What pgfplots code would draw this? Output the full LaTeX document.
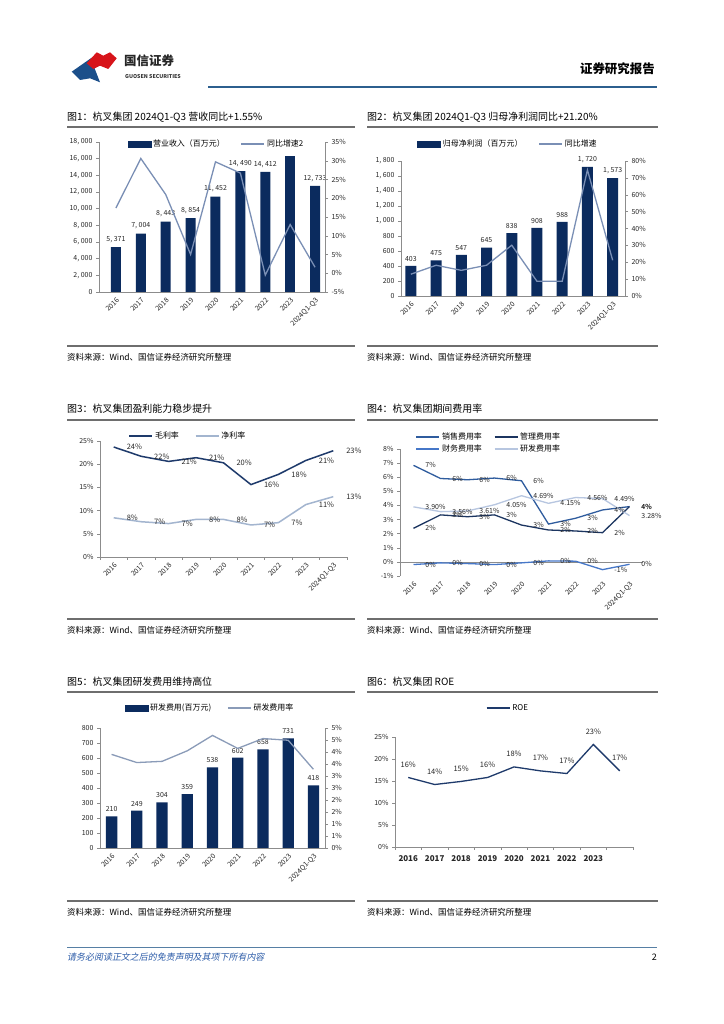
\documentclass[border=0pt]{standalone}
\usepackage{fontspec}
\setmainfont{Noto Sans CJK SC}
\newfontfamily\cjkit[FakeSlant=0.2]{Noto Sans CJK SC}
\usepackage{pgfplots}
\pgfplotsset{compat=1.18}

\definecolor{barnavy}{HTML}{0B2B5E}
\definecolor{steel}{HTML}{7A8FB5}
\definecolor{gross}{HTML}{1E3A6B}
\definecolor{net}{HTML}{A3B5CF}
\definecolor{sell}{HTML}{2F5C9E}
\definecolor{admin}{HTML}{1C3560}
\definecolor{fin}{HTML}{4677C8}
\definecolor{rd}{HTML}{B7C6E0}
\definecolor{rdline}{HTML}{8A9BB8}
\definecolor{axgray}{HTML}{8C8C8C}
\definecolor{rulegray}{HTML}{6E6E6E}
\definecolor{hdrblue}{HTML}{2C5F8E}
\definecolor{logored}{HTML}{D7141A}
\definecolor{logoblue}{HTML}{1B4F8A}
\definecolor{footblue}{HTML}{2B5BA8}

\pgfplotsset{
  base/.style={
    scale only axis, enlargelimits=false, clip=false,
    axis line style={draw=axgray, -},
    tick style={draw=axgray, thin}, tick align=outside,
    major tick length=3bp, minor tick length=3bp,
    tick label style={font=\fontsize{7}{8}\selectfont, text=black!85},
    /pgf/number format/assume math mode=true,
    legend style={draw=none, fill=none, font=\fontsize{8}{9}\selectfont,
      legend cell align=left, anchor=center,
      /tikz/every even column/.append style={column sep=14bp}},
    legend image code/.code={\draw[##1] (0bp,0bp) -- (23bp,0bp);},
  },
  rotx/.style={xticklabel style={rotate=45, anchor=north east, inner sep=1.5bp}},
  pct/.style={yticklabel={\pgfmathprintnumber{\tick}\%}},
  barlab/.style={nodes near coords, nodes near coords style={font=\fontsize{7}{8}\selectfont,
      text=black!85, /pgf/number format/1000 sep={,\ }, yshift=1bp}},
}

\begin{document}
\begin{tikzpicture}[x=1bp,y=1bp]
\useasboundingbox (0,0) rectangle (724,1024);
\fill[white] (0,0) rectangle (724,1024);

% header
\fill[logoblue] (71.7,952.3) -- (91.7,966.3) -- (93.3,959) -- (100,941.7) -- (90,945.7) -- (80,944) -- cycle;
\fill[logored] (86.7,960.7) -- (96.7,971.7) -- (103.3,968.3) -- (110,971.7) -- (116.7,965.7) -- (108.3,955) -- (100,958.3) -- (93.3,955) -- cycle;
\node[anchor=west, inner sep=0, font=\fontsize{12.5}{13}\selectfont\bfseries, text=black!85] at (124,963) {国信证券};
\node[anchor=west, inner sep=0, font=\fontsize{5.3}{6}\selectfont\bfseries, text=black!80] at (125,947) {GUOSEN SECURITIES};
\draw[hdrblue, line width=2.2bp] (208,937) -- (657,937);
\node[anchor=east, inner sep=0, font=\fontsize{12.5}{13}\selectfont\bfseries] at (655,955) {证券研究报告};

% titles and rules
\foreach \yt/\yl/\ys in {907/897/678, 615/604/405, 342/332/123}{
  \draw[rulegray, line width=1.2bp] (67,\yl) -- (355,\yl);
  \draw[rulegray, line width=1.2bp] (367,\yl) -- (658,\yl);
  \draw[rulegray, line width=1.2bp] (67,\ys) -- (355,\ys);
  \draw[rulegray, line width=1.2bp] (367,\ys) -- (658,\ys);
  \node[anchor=west, inner sep=0, font=\fontsize{8.5}{9}\selectfont] at (67,\ys-11) {资料来源：Wind、国信证券经济研究所整理};
  \node[anchor=west, inner sep=0, font=\fontsize{8.5}{9}\selectfont] at (367,\ys-11) {资料来源：Wind、国信证券经济研究所整理};
}
\node[anchor=west, inner sep=0, font=\fontsize{10}{11}\selectfont] at (67,907) {图1：杭叉集团 2024Q1-Q3 营收同比+1.55\%};
\node[anchor=west, inner sep=0, font=\fontsize{10}{11}\selectfont] at (367,907) {图2：杭叉集团 2024Q1-Q3 归母净利润同比+21.20\%};
\node[anchor=west, inner sep=0, font=\fontsize{10}{11}\selectfont] at (67,615) {图3：杭叉集团盈利能力稳步提升};
\node[anchor=west, inner sep=0, font=\fontsize{10}{11}\selectfont] at (367,615) {图4：杭叉集团期间费用率};
\node[anchor=west, inner sep=0, font=\fontsize{10}{11}\selectfont] at (67,342) {图5：杭叉集团研发费用维持高位};
\node[anchor=west, inner sep=0, font=\fontsize{10}{11}\selectfont] at (367,342) {图6：杭叉集团 ROE};

% footer
\draw[hdrblue!80, line width=0.8bp] (67,77) -- (657,77);
\node[anchor=west, inner sep=0, font=\cjkit\fontsize{9}{10}\selectfont, text=footblue] at (67,67) {请务必阅读正文之后的免责声明及其项下所有内容};
\node[anchor=east, inner sep=0, font=\fontsize{9}{10}\selectfont] at (657,67) {2};

% ---------- chart 1 ----------
\begin{axis}[base, rotx, barlab,
  at={(99bp,732bp)}, anchor=south west, width=226bp, height=150bp,
  xmin=-0.68, xmax=8.4, ymin=0, ymax=18000,
  axis y line*=left, axis x line*=bottom,
  xtick={0,...,8}, xticklabels={2016,2017,2018,2019,2020,2021,2022,2023,2024Q1-Q3},
  major x tick style={draw=none},
  ytick={0,2000,...,18000}, scaled y ticks=false,
  yticklabel style={/pgf/number format/1000 sep={,\ }},
  ybar, bar width=10bp]
\addplot[fill=barnavy, draw=none, bar shift=0pt] coordinates {(0,5371) (1,7004) (2,8443) (3,8854) (4,11452) (5,14490) (6,14412) (8,12733)};
\addplot[fill=barnavy, draw=none, bar shift=0pt, nodes near coords={}] coordinates {(7,16264)};
\end{axis}
\begin{axis}[base, pct,
  at={(99bp,732bp)}, anchor=south west, width=226bp, height=150bp,
  xmin=-0.68, xmax=8.4, ymin=-5, ymax=35, ytick={-5,0,...,35},
  axis y line*=right, axis x line=none,
  legend style={at={(0.52,0.987)}}, legend columns=2]
\addlegendimage{legend image code/.code={\fill[barnavy] (0bp,-3bp) rectangle (23bp,3bp);}}
\addlegendentry{营业收入（百万元）}
\addplot[steel, line width=1.3bp] coordinates {(0,17.4) (1,30.6) (2,21.0) (3,5.0) (4,29.7) (5,26.7) (6,-0.5) (7,13.0) (8,1.6)};
\addlegendentry{同比增速2}
\end{axis}

% ---------- chart 2 ----------
\begin{axis}[base, rotx, barlab,
  at={(401bp,728bp)}, anchor=south west, width=224bp, height=135bp,
  xmin=-0.39, xmax=8.49, ymin=0, ymax=1800,
  axis y line*=left, axis x line*=bottom,
  xtick={0,...,8}, xticklabels={2016,2017,2018,2019,2020,2021,2022,2023,2024Q1-Q3},
  major x tick style={draw=none},
  ytick={0,200,...,1800}, scaled y ticks=false,
  yticklabel style={/pgf/number format/1000 sep={,\ }},
  ybar, bar width=11bp]
\addplot[fill=barnavy, draw=none, bar shift=0pt] coordinates {(0,403) (1,475) (2,547) (3,645) (4,838) (5,908) (6,988) (7,1720) (8,1573)};
\end{axis}
\begin{axis}[base, pct,
  at={(401bp,728bp)}, anchor=south west, width=224bp, height=135bp,
  xmin=-0.39, xmax=8.49, ymin=0, ymax=80, ytick={0,10,...,80},
  axis y line*=right, axis x line=none,
  legend style={at={(0.478,1.126)}}, legend columns=2]
\addlegendimage{legend image code/.code={\fill[barnavy] (0bp,-3bp) rectangle (23bp,3bp);}}
\addlegendentry{归母净利润（百万元）}
\addplot[steel, line width=1.3bp] coordinates {(0,12.9) (1,18.2) (2,15.2) (3,18.2) (4,30.1) (5,8.7) (6,8.7) (7,74.7) (8,21.2)};
\addlegendentry{同比增速}
\end{axis}

% ---------- chart 3 ----------
\begin{axis}[base, rotx, pct,
  at={(100bp,467bp)}, anchor=south west, width=247bp, height=116bp,
  xmin=-0.5, xmax=8.5, ymin=0, ymax=25, ytick={0,5,...,25},
  axis y line*=left, axis x line*=bottom,
  xtick={0,...,8}, xticklabels={2016,2017,2018,2019,2020,2021,2022,2023,2024Q1-Q3},
  major x tick style={draw=none}, minor xtick={-0.5,0.5,...,8.5},
  legend style={at={(0.356,1.043)}}, legend columns=2,
  point meta=explicit symbolic, nodes near coords,
  nodes near coords style={anchor=west, xshift=9bp, text=black!85, font=\fontsize{7.5}{8}\selectfont}]
\addplot[gross, line width=1.5bp] table[meta=l] {
x y l
0 23.7 24\%
1 21.7 22\%
2 20.6 21\%
3 21.4 21\%
4 20.3 20\%
5 15.6 16\%
6 17.8 18\%
7 20.8 21\%
8 22.9 23\%
};
\addlegendentry{毛利率}
\addplot[net, line width=1.5bp] table[meta=l] {
x y l
0 8.45 8\%
1 7.6 7\%
2 7.2 7\%
3 8.1 8\%
4 8.1 8\%
5 6.9 7\%
6 7.4 7\%
7 11.3 11\%
8 13.0 13\%
};
\addlegendentry{净利率}
\end{axis}

% ---------- chart 4 ----------
\begin{axis}[base, rotx, pct,
  at={(400bp,448bp)}, anchor=south west, width=243bp, height=127bp,
  xmin=-0.5, xmax=8.5, ymin=-1, ymax=8, ytick={-1,0,...,8},
  axis y line*=left, axis x line*=bottom, x axis line style={draw=none},
  xtick={0,...,8}, xticklabels={2016,2017,2018,2019,2020,2021,2022,2023,2024Q1-Q3},
  major x tick style={draw=none},
  legend style={at={(0.366,1.047)}, /tikz/every even column/.append style={column sep=10bp}}, legend columns=2,
  point meta=explicit symbolic, nodes near coords,
  nodes near coords style={anchor=west, xshift=8bp, text=black!85, font=\fontsize{7}{8}\selectfont}]
\draw[axgray] (axis cs:-0.5,0) -- (axis cs:8.5,0);
\addplot[sell, line width=1.3bp] table[meta=l] {
x y l
0 6.84 7\%
1 5.91 6\%
2 5.82 6\%
3 5.94 6\%
4 5.75 6\%
5 2.68 3\%
6 3.09 3\%
7 3.68 4\%
8 3.92 4\%
};
\addlegendentry{销售费用率}
\addplot[admin, line width=1.3bp] table[meta=l] {
x y l
0 2.38 2\%
1 3.33 3\%
2 3.20 3\%
3 3.33 3\%
4 2.61 3\%
5 2.26 2\%
6 2.19 2\%
7 2.07 2\%
8 3.92 4\%
};
\addlegendentry{管理费用率}
\addplot[fin, line width=1.3bp] table[meta=l] {
x y l
0 -0.19 0\%
1 -0.07 0\%
2 -0.12 0\%
3 -0.19 0\%
4 -0.07 0\%
5 0.07 0\%
6 0.05 0\%
7 -0.55 -1\%
8 -0.17 0\%
};
\addlegendentry{财务费用率}
\addplot[rd, line width=1.3bp] table[meta=l] {
x y l
0 3.90 3.90\%
1 3.56 3.56\%
2 3.61 3.61\%
3 4.05 4.05\%
4 4.69 4.69\%
5 4.15 4.15\%
6 4.56 4.56\%
7 4.49 4.49\%
8 3.28 3.28\%
};
\addlegendentry{研发费用率}
\end{axis}

% ---------- chart 5 ----------
\begin{axis}[base, rotx, barlab,
  at={(100bp,176bp)}, anchor=south west, width=225bp, height=120bp,
  xmin=-0.46, xmax=8.46, ymin=0, ymax=800,
  axis y line*=left, axis x line*=bottom,
  xtick={0,...,8}, xticklabels={2016,2017,2018,2019,2020,2021,2022,2023,2024Q1-Q3},
  major x tick style={draw=none},
  ytick={0,100,...,800},
  ybar, bar width=11.3bp]
\addplot[fill=barnavy, draw=none, bar shift=0pt] coordinates {(0,210) (1,249) (2,304) (3,359) (4,538) (5,602) (6,658) (7,731) (8,418)};
\end{axis}
\begin{axis}[base,
  at={(100bp,176bp)}, anchor=south west, width=225bp, height=120bp,
  xmin=-0.46, xmax=8.46, ymin=0, ymax=5, ytick={0,0.5,...,5},
  yticklabels={0\%,1\%,1\%,2\%,2\%,3\%,3\%,4\%,4\%,5\%,5\%},
  axis y line*=right, axis x line=none,
  legend style={at={(0.489,1.167)}}, legend columns=2]
\addlegendimage{legend image code/.code={\fill[barnavy] (0bp,-3bp) rectangle (23bp,3bp);}}
\addlegendentry{研发费用(百万元)}
\addplot[rdline, line width=1.3bp] coordinates {(0,3.90) (1,3.56) (2,3.61) (3,4.05) (4,4.69) (5,4.15) (6,4.56) (7,4.49) (8,3.28)};
\addlegendentry{研发费用率}
\end{axis}

% ---------- chart 6 ----------
\begin{axis}[base, pct,
  at={(395bp,177bp)}, anchor=south west, width=238bp, height=110bp,
  xmin=-0.5, xmax=8.5, ymin=0, ymax=25, ytick={0,5,...,25},
  axis y line*=left, axis x line*=bottom,
  xtick={0,...,7}, xticklabels={2016,2017,2018,2019,2020,2021,2022,2023},
  xticklabel style={font=\fontsize{8}{9}\selectfont\bfseries, yshift=-2bp},
  major x tick style={draw=none}, minor xtick={-0.5,0.5,...,8.5},
  legend style={at={(0.475,1.264)}},
  point meta=explicit symbolic, nodes near coords,
  nodes near coords style={anchor=south, yshift=6bp, text=black!85, font=\fontsize{7.5}{8}\selectfont}]
\addplot[gross, line width=1.3bp] table[meta=l] {
x y l
0 15.8 16\%
1 14.2 14\%
2 14.9 15\%
3 15.8 16\%
4 18.2 18\%
5 17.3 17\%
6 16.7 17\%
7 23.3 23\%
8 17.3 17\%
};
\addlegendentry{ROE}
\end{axis}
\end{tikzpicture}
\end{document}
